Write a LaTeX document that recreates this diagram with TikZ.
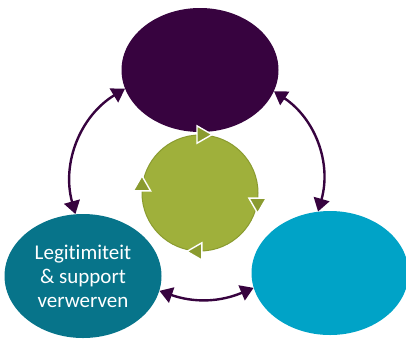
\documentclass[tikz,border=0pt]{standalone}
\usepackage{fontspec}
\usepackage{tikz}
\usepackage{xcolor}
\setmainfont{Carlito}[Ligatures=NoCommon]
\usetikzlibrary{positioning, arrows.meta, shapes.geometric}

\definecolor{plum}{HTML}{37033F}
\definecolor{tealdark}{HTML}{07748A}
\definecolor{cyanlight}{HTML}{00A3C7}
\definecolor{olive}{HTML}{9FB03B}
\definecolor{olivedark}{HTML}{8A9B2F}

\tikzset{
  blob/.style={draw=none, ellipse, minimum width=157pt, minimum height=124pt, inner sep=0pt},
  link/.style={draw=plum, line width=2.4pt, {Triangle[length=13pt,width=16pt]}-{Triangle[length=13pt,width=16pt]}},
  spin/.style={isosceles triangle, isosceles triangle apex angle=60, minimum size=15pt, inner sep=0pt,
    fill=olivedark, draw=white, line width=1.4pt}
}

\begin{document}
\begin{tikzpicture}[x=1pt, y=-1pt, every node/.style={font=\fontsize{21}{24}\selectfont}]
  \useasboundingbox (0,0) rectangle (406,338);

  \node (top) [blob, fill=plum] at (200,70) {};
  \node (left) [blob, fill=tealdark, text=white, align=center] at (83,276) {Legitimiteit\\ \& support\\ verwerven};
  \node (right) [blob, fill=cyanlight] at (330,273) {};
  \node (hub) [circle, fill=olive, draw=olivedark, line width=1pt, minimum size=116pt, inner sep=0pt] at (200,193) {};

  % turning arrows on the hub
  \node (s1) [spin, shape border rotate=-2] at (hub.88) {};
  \node (s2) [spin, shape border rotate=-100] at (hub.-10) {};
  \node (s3) [spin, shape border rotate=-183] at (hub.-93) {};
  \node (s4) [spin, shape border rotate=83] at (hub.173) {};

  \draw[link] (top.194) to[bend right=37] (left.97);
  \draw[link] (top.-16) to[bend left=36] (right.101);
  \draw[link] (left.-11) to[bend right=21] (right.191);
\end{tikzpicture}
\end{document}
